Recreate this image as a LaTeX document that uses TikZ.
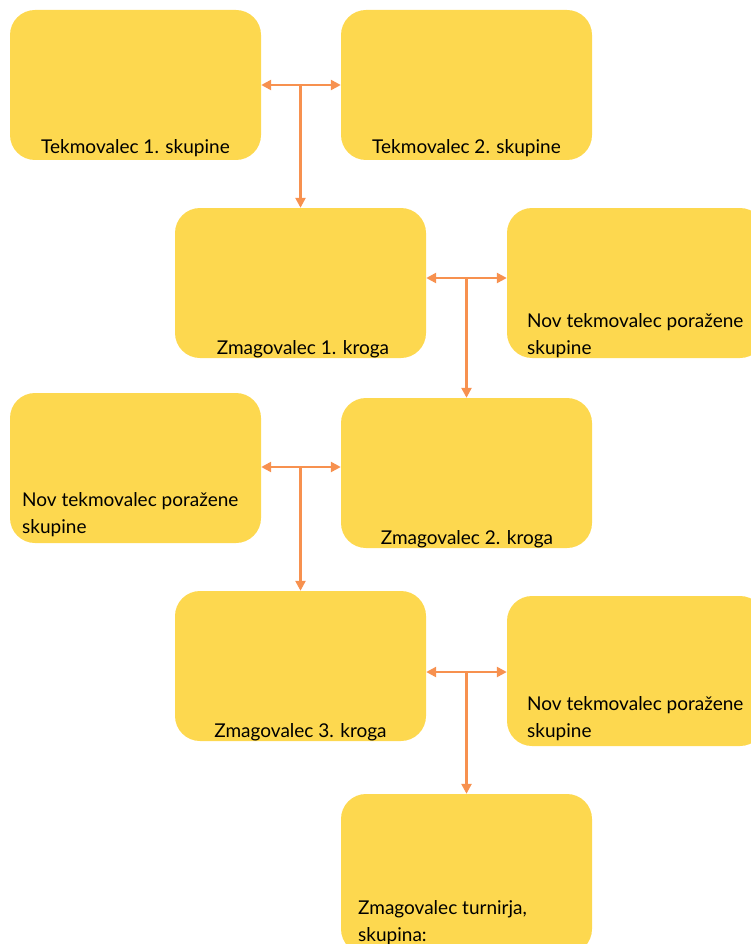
\documentclass[tikz,border=0pt]{standalone}
\usepackage{fontspec}
\setmainfont{Lato}
\usepackage{xcolor}
\usetikzlibrary{arrows.meta, positioning, calc}
\definecolor{boxyellow}{HTML}{FDD84F}
\definecolor{linkorange}{HTML}{F7914F}

\begin{document}
\begin{tikzpicture}[x=1pt, y=-1pt,
    box/.style={rectangle, rounded corners=25pt, fill=boxyellow, minimum width=251pt, minimum height=150pt, inner sep=0pt},
    lbl/.style={font=\fontsize{19}{26.5}\selectfont, text=black, inner sep=0pt, align=left},
    link/.style={draw=linkorange, line width=2.4pt, -{Triangle[length=10pt, width=10pt]}},
    dlink/.style={link, {Triangle[length=10pt, width=10pt]}-{Triangle[length=10pt, width=10pt]}}]
    \useasboundingbox (0,0) rectangle (751,944);
    \clip (0,0) rectangle (751,944);

    % Nodes
    \node (Tek1) [box] at (135.5,85) {};
    \node (Tek2) [box] at (466.5,85) {};
    \node (Zmag1) [box] at (300.5,283) {};
    \node (Nov1) [box, minimum width=258pt] at (636,283) {};
    \node (Nov2) [box] at (135.5,468) {};
    \node (Zmag2) [box] at (466.5,473) {};
    \node (Zmag3) [box] at (300.5,666) {};
    \node (Nov3) [box, minimum width=258pt] at (636,671) {};
    \node (Final) [box, minimum height=160pt] at (466.5,874) {};

    % Labels
    \node (Tek1txt) [lbl, anchor=base] at (135.5,154) {Tekmovalec 1. skupine};
    \node (Tek2txt) [lbl, anchor=base] at (466.5,154) {Tekmovalec 2. skupine};
    \node (Zmag1txt) [lbl, anchor=base] at (303,354) {Zmagovalec 1. kroga};
    \node (Nov1txt) [lbl, anchor=base west] at (527,354) {Nov tekmovalec poražene\\skupine};
    \node (Nov2txt) [lbl, anchor=base west] at (22,533) {Nov tekmovalec poražene\\skupine};
    \node (Zmag2txt) [lbl, anchor=base] at (467,544) {Zmagovalec 2. kroga};
    \node (Zmag3txt) [lbl, anchor=base] at (300.5,737) {Zmagovalec 3. kroga};
    \node (Nov3txt) [lbl, anchor=base west] at (527,737) {Nov tekmovalec poražene\\skupine};
    \node (Finaltxt) [lbl, anchor=base west] at (358,941) {Zmagovalec turnirja,\\skupina:};

    % Edges
    \coordinate (m1) at (300.5,85);
    \coordinate (m2) at (466.5,278);
    \coordinate (m3) at (300.5,467);
    \coordinate (m4) at (466.5,672);
    \draw[dlink] (m1 -| Tek1.east) -- (m1 -| Tek2.west);
    \draw[link] (m1) -- (m1 |- Zmag1.north);
    \draw[dlink] (m2 -| Zmag1.east) -- (m2 -| Nov1.west);
    \draw[link] (m2) -- (m2 |- Zmag2.north);
    \draw[dlink] (m3 -| Nov2.east) -- (m3 -| Zmag2.west);
    \draw[link] (m3) -- (m3 |- Zmag3.north);
    \draw[dlink] (m4 -| Zmag3.east) -- (m4 -| Nov3.west);
    \draw[link] (m4) -- (m4 |- Final.north);
\end{tikzpicture}
\end{document}
